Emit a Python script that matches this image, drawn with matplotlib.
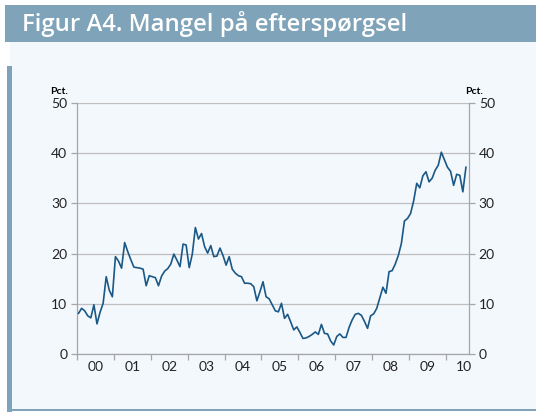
import matplotlib.pyplot as plt
from matplotlib.patches import Rectangle
import numpy as np

# monthly values, Jan 2000 .. Jul 2010 (pct.)
values = [
    8.1, 9.1, 8.6, 7.6, 7.2, 9.8, 6.0, 8.3, 10.1, 15.4, 12.7, 11.4,      # 2000
    19.4, 18.5, 17.1, 22.2, 20.4, 18.8, 17.3, 17.2, 17.1, 16.9, 13.6, 15.6,  # 2001
    15.4, 15.2, 13.6, 15.5, 16.5, 17.0, 17.9, 19.9, 18.7, 17.4, 21.9, 21.7,  # 2002
    17.2, 19.9, 25.2, 22.9, 24.0, 21.4, 20.1, 21.6, 19.4, 19.5, 21.1, 19.6,  # 2003
    17.7, 19.4, 16.9, 16.1, 15.6, 15.4, 14.1, 14.1, 14.0, 13.4, 10.6, 12.4,  # 2004
    14.4, 11.4, 11.0, 9.8, 8.6, 8.4, 10.1, 7.1, 7.9, 6.4, 4.8, 5.4,          # 2005
    4.3, 3.1, 3.2, 3.5, 3.9, 4.4, 3.9, 5.9, 4.1, 4.0, 2.6, 1.8,              # 2006
    3.5, 4.0, 3.3, 3.3, 5.3, 6.8, 7.9, 8.1, 7.7, 6.5, 5.1, 7.6,              # 2007
    8.0, 9.1, 11.2, 13.3, 12.1, 16.4, 16.6, 17.9, 19.6, 22.0, 26.5, 27.0,    # 2008
    28.0, 30.5, 34.0, 33.1, 35.5, 36.3, 34.3, 35.0, 36.6, 37.6, 40.2, 38.7,  # 2009
    37.2, 36.4, 33.6, 35.8, 35.6, 32.3, 37.2,                                # 2010
]
year_labels = ['00', '01', '02', '03', '04', '05', '06', '07', '08', '09', '10']
title = 'Figur A4. Mangel på efterspørgsel'

W, H = 536, 412
frame = '#7FA3B8'
panel = '#F3F8FC'
grid_c = '#BFBFBF'
spine_c = '#A6A6A6'
line_c = '#1B5886'

plt.rcParams['font.family'] = ['Lato', 'DejaVu Sans']

fig = plt.figure(figsize=(W / 100, H / 100), dpi=100)
fig.patch.set_facecolor('white')


def px_rect(x0, y0, x1, y1, color):
    # rectangle given in pixel coords (top-left origin)
    fig.patches.append(Rectangle((x0 / W, 1 - y1 / H), (x1 - x0) / W, (y1 - y0) / H,
                                 transform=fig.transFigure, facecolor=color,
                                 edgecolor='none', zorder=-5))


px_rect(10, 42, W, 410, panel)
px_rect(5, 5, W, 42, frame)
px_rect(7, 66, 12, H, frame)
px_rect(7, 409, W, 411, frame)

fig.text(22 / W, 1 - 24 / H, title, color='white', fontsize=17.2,
         fontweight='semibold', va='center', ha='left', family=['Open Sans', 'DejaVu Sans'])

ax = fig.add_axes([77 / W, 1 - 354 / H, (469 - 77) / W, (354 - 103) / H])
ax.set_facecolor('none')
ax.set_zorder(2)

months = np.arange(len(values))
ax.plot(months, values, color=line_c, lw=1.2, zorder=3)

ax.set_xlim(-0.5, 127.0)
ax.set_ylim(0, 50)
ax.set_yticks(range(0, 51, 10))
ax.yaxis.grid(True, color=grid_c, lw=0.9)
ax.set_axisbelow(True)

ax.set_xticks([12 * k - 0.5 for k in range(11)])
ax.set_xticks([12 * k + 5.5 for k in range(11)], minor=True)
ax.set_xticklabels([], minor=False)
ax.set_xticklabels(year_labels, minor=True)
ax.tick_params(axis='x', which='major', length=4, color=spine_c, width=0.9)
ax.tick_params(axis='x', which='minor', length=0, pad=5, labelsize=10, labelcolor='#222222')
ax.tick_params(axis='y', left=True, right=True, labelleft=True, labelright=True,
               length=4, color=spine_c, width=0.9, labelsize=10, labelcolor='#222222', pad=3)

for s in ['left', 'right', 'bottom']:
    ax.spines[s].set_color(spine_c)
    ax.spines[s].set_linewidth(0.9)
ax.spines['top'].set_visible(False)

fig.text(50 / W, 1 - 91 / H, 'Pct.', fontsize=7.5, fontweight='bold', va='center', ha='left')
fig.text(465 / W, 1 - 91 / H, 'Pct.', fontsize=7.5, fontweight='bold', va='center', ha='left')

fig.savefig('out.png', dpi=100, facecolor=fig.get_facecolor())
